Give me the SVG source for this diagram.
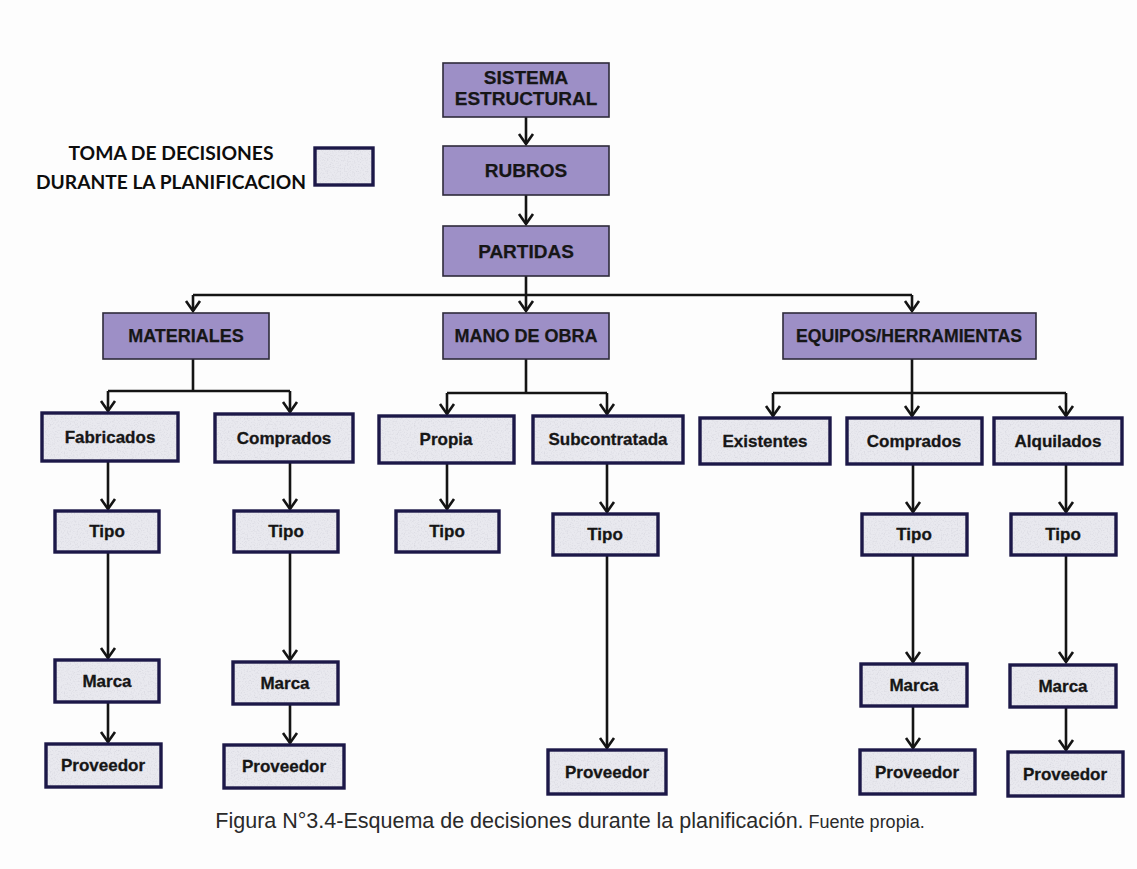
<svg xmlns="http://www.w3.org/2000/svg" width="1137" height="869" viewBox="0 0 1137 869">
  <style>
    .bg { fill: #fdfdfd; }
    .main rect { fill: #9d8fc6; stroke: #2e2a3a; stroke-width: 1.6; }
    .main text { font-family: "Liberation Sans", Arial, sans-serif; font-weight: bold; font-size: 18px; fill: #161616; text-anchor: middle; stroke: #161616; stroke-width: 0.25; }
    .main.top text { font-size: 19px; }
    .leaf rect { fill: url(#speckle); stroke: #1c1848; stroke-width: 3.4; }
    .leaf text { font-family: "Liberation Sans", Arial, sans-serif; font-weight: bold; font-size: 17px; fill: #161616; text-anchor: middle; stroke: #161616; stroke-width: 0.3; }
    .edges path { fill: none; stroke: #141414; stroke-width: 2.6; }
    .legend text { font-family: Lato, "Liberation Sans", sans-serif; font-weight: bold; font-size: 19px; fill: #0d0d0d; text-anchor: middle; }
    .caption { font-family: "Liberation Sans", Arial, sans-serif; fill: #2a2a2a; text-anchor: middle; }
  </style>
  <defs>
    <!-- light speckled paper fill for the decision boxes -->
    <filter id="grain" x="0" y="0" width="1" height="1">
      <feTurbulence type="fractalNoise" baseFrequency="0.7" numOctaves="2" seed="5" result="n"/>
      <feColorMatrix in="n" type="matrix" values="0 0 0 0 0.62  0 0 0 0 0.62  0 0 0 0 0.68  0 0 0 -1.6 0.85" result="spots"/>
      <feComposite in="spots" in2="SourceGraphic" operator="atop"/>
    </filter>
    <pattern id="speckle" width="240" height="120" patternUnits="userSpaceOnUse">
      <rect width="240" height="120" fill="#e9e9ef" filter="url(#grain)"/>
    </pattern>
    <marker id="arrow" markerUnits="userSpaceOnUse" markerWidth="24" markerHeight="24" viewBox="-12 -12 24 24" refX="0" refY="0" orient="auto" overflow="visible">
      <path d="M -10 -7 L 0 0 L -10 7" fill="none" stroke="#141414" stroke-width="2.6" stroke-linejoin="miter"/>
    </marker>
  </defs>

  <rect class="bg" x="0" y="0" width="1137" height="869"/>

  <!-- legend -->
  <g id="legend" class="legend">
    <text x="171" y="160" textLength="205" lengthAdjust="spacingAndGlyphs">TOMA DE DECISIONES</text>
    <text x="171" y="189" textLength="270" lengthAdjust="spacingAndGlyphs">DURANTE LA PLANIFICACION</text>
    <rect x="315" y="148" width="58" height="37" fill="url(#speckle)" stroke="#1c1848" stroke-width="3.4"/>
  </g>

  <!-- connectors -->
  <g id="connectors" class="edges">
    <path d="M526 117 V144" marker-end="url(#arrow)"/>
    <path d="M526 195 V224" marker-end="url(#arrow)"/>
    <path d="M526 276 V295 M193 295 H912"/>
    <path d="M193 295 V311" marker-end="url(#arrow)"/>
    <path d="M526 295 V311" marker-end="url(#arrow)"/>
    <path d="M912 295 V311" marker-end="url(#arrow)"/>

    <path d="M193 359 V391 M108 391 H290"/>
    <path d="M108 391 V411" marker-end="url(#arrow)"/>
    <path d="M290 391 V412" marker-end="url(#arrow)"/>

    <path d="M526 359 V393 M447 393 H607"/>
    <path d="M447 393 V414" marker-end="url(#arrow)"/>
    <path d="M607 393 V414" marker-end="url(#arrow)"/>

    <path d="M912 359 V393 M773 393 H1066"/>
    <path d="M773 393 V416" marker-end="url(#arrow)"/>
    <path d="M912 393 V416" marker-end="url(#arrow)"/>
    <path d="M1066 393 V416" marker-end="url(#arrow)"/>

    <path d="M108 461 V509" marker-end="url(#arrow)"/>
    <path d="M290 462 V509" marker-end="url(#arrow)"/>
    <path d="M447 463 V509" marker-end="url(#arrow)"/>
    <path d="M607 463 V512" marker-end="url(#arrow)"/>
    <path d="M913 464 V512" marker-end="url(#arrow)"/>
    <path d="M1066 464 V512" marker-end="url(#arrow)"/>

    <path d="M108 552 V658" marker-end="url(#arrow)"/>
    <path d="M290 552 V660" marker-end="url(#arrow)"/>
    <path d="M913 555 V662" marker-end="url(#arrow)"/>
    <path d="M1066 555 V662" marker-end="url(#arrow)"/>
    <path d="M607 555 V748" marker-end="url(#arrow)"/>

    <path d="M108 702 V742" marker-end="url(#arrow)"/>
    <path d="M290 704 V743" marker-end="url(#arrow)"/>
    <path d="M913 706 V748" marker-end="url(#arrow)"/>
    <path d="M1066 707 V750" marker-end="url(#arrow)"/>
  </g>

  <!-- top levels -->
  <g id="sistema" class="main top">
    <rect x="443" y="63" width="166" height="54"/>
    <text x="526" y="84">SISTEMA</text>
    <text x="526" y="105">ESTRUCTURAL</text>
  </g>
  <g id="rubros" class="main top">
    <rect x="443" y="146" width="166" height="49"/>
    <text x="526" y="177">RUBROS</text>
  </g>
  <g id="partidas" class="main top">
    <rect x="443" y="226" width="166" height="50"/>
    <text x="526" y="258">PARTIDAS</text>
  </g>
  <g id="materiales" class="main">
    <rect x="103" y="313" width="166" height="46"/>
    <text x="186" y="342">MATERIALES</text>
  </g>
  <g id="mano-obra" class="main">
    <rect x="443" y="313" width="166" height="46"/>
    <text x="526" y="342">MANO DE OBRA</text>
  </g>
  <g id="equipos" class="main">
    <rect x="783" y="313" width="253" height="46"/>
    <text x="909" y="342" textLength="226" lengthAdjust="spacingAndGlyphs">EQUIPOS/HERRAMIENTAS</text>
  </g>

  <!-- materiales branch -->
  <g id="fabricados" class="leaf"><rect x="42" y="413" width="136" height="48"/><text x="110" y="443">Fabricados</text></g>
  <g id="comprados-mat" class="leaf"><rect x="215" y="414" width="138" height="48"/><text x="284" y="444">Comprados</text></g>
  <g id="tipo-fab" class="leaf"><rect x="55" y="511" width="104" height="41"/><text x="107" y="537">Tipo</text></g>
  <g id="tipo-comp" class="leaf"><rect x="234" y="511" width="104" height="41"/><text x="286" y="537">Tipo</text></g>
  <g id="marca-fab" class="leaf"><rect x="55" y="660" width="104" height="42"/><text x="107" y="687">Marca</text></g>
  <g id="marca-comp" class="leaf"><rect x="233" y="662" width="105" height="42"/><text x="285" y="689">Marca</text></g>
  <g id="prov-fab" class="leaf"><rect x="46" y="744" width="115" height="43"/><text x="103" y="771">Proveedor</text></g>
  <g id="prov-comp" class="leaf"><rect x="224" y="745" width="120" height="43"/><text x="284" y="772">Proveedor</text></g>

  <!-- mano de obra branch -->
  <g id="propia" class="leaf"><rect x="379" y="416" width="135" height="47"/><text x="446" y="445">Propia</text></g>
  <g id="subcontratada" class="leaf"><rect x="533" y="416" width="150" height="47"/><text x="608" y="445">Subcontratada</text></g>
  <g id="tipo-propia" class="leaf"><rect x="396" y="511" width="103" height="41"/><text x="447" y="537">Tipo</text></g>
  <g id="tipo-sub" class="leaf"><rect x="553" y="514" width="105" height="41"/><text x="605" y="540">Tipo</text></g>
  <g id="prov-sub" class="leaf"><rect x="548" y="750" width="118" height="44"/><text x="607" y="778">Proveedor</text></g>

  <!-- equipos branch -->
  <g id="existentes" class="leaf"><rect x="700" y="418" width="130" height="46"/><text x="765" y="447">Existentes</text></g>
  <g id="comprados-eq" class="leaf"><rect x="847" y="418" width="135" height="46"/><text x="914" y="447">Comprados</text></g>
  <g id="alquilados" class="leaf"><rect x="994" y="418" width="128" height="46"/><text x="1058" y="447">Alquilados</text></g>
  <g id="tipo-eq" class="leaf"><rect x="862" y="514" width="105" height="41"/><text x="914" y="540">Tipo</text></g>
  <g id="tipo-alq" class="leaf"><rect x="1011" y="514" width="105" height="41"/><text x="1063" y="540">Tipo</text></g>
  <g id="marca-eq" class="leaf"><rect x="861" y="664" width="106" height="42"/><text x="914" y="691">Marca</text></g>
  <g id="marca-alq" class="leaf"><rect x="1010" y="665" width="106" height="42"/><text x="1063" y="692">Marca</text></g>
  <g id="prov-eq" class="leaf"><rect x="860" y="750" width="115" height="44"/><text x="917" y="778">Proveedor</text></g>
  <g id="prov-alq" class="leaf"><rect x="1008" y="752" width="115" height="44"/><text x="1065" y="780">Proveedor</text></g>

  <text class="caption" x="570" y="828"><tspan font-size="21.5">Figura N°3.4-Esquema de decisiones durante la planificación.</tspan><tspan font-size="18"> Fuente propia.</tspan></text>
</svg>
